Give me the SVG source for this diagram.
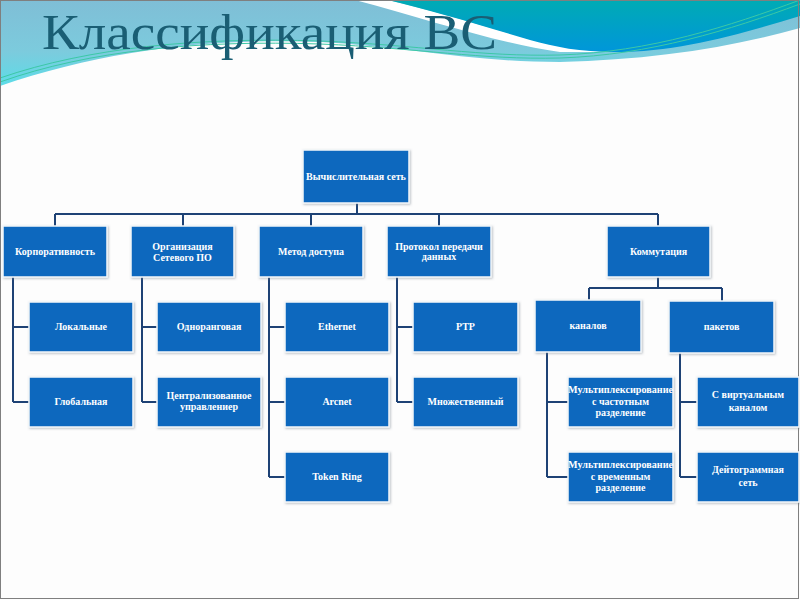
<svg xmlns="http://www.w3.org/2000/svg" width="800" height="600" viewBox="0 0 800 600">
<defs>
<linearGradient id="lb" x1="0" y1="0" x2="0" y2="1">
<stop offset="0" stop-color="#7FBED6"/>
<stop offset="0.6" stop-color="#7CCBDD"/>
<stop offset="1" stop-color="#5CDCE8"/>
</linearGradient>
<linearGradient id="teal" x1="0" y1="0" x2="0" y2="1">
<stop offset="0" stop-color="#00ABB4"/>
<stop offset="1" stop-color="#0096DA"/>
</linearGradient>
<filter id="sh" x="-10%" y="-10%" width="120%" height="130%">
<feDropShadow dx="1" dy="1" stdDeviation="0.8" flood-color="#7A8590" flood-opacity="0.5"/>
</filter>
<style>
.box{fill:#1168BE;stroke:#F4F7FA;stroke-width:1.5;filter:url(#sh)}
.t{font-family:"Liberation Serif","DejaVu Serif",serif;font-weight:bold;font-size:10px;fill:#FFFFFF;text-anchor:middle}
.c{fill:none;stroke:#1E4275;stroke-width:2}
.g{fill:none;stroke:#3CC8A6;stroke-width:1}
</style>
</defs>
<rect x="0" y="0" width="800" height="600" fill="#FDFDFD"/>
<path d="M0,0 H800 V28 C730,48 650,60 560,62 C470,62 400,46 320,42 C220,38 110,48 0,86 Z" fill="url(#lb)"/>
<path d="M355,0 L388,0 C440,12 490,28 540,42 C570,49 600,52 620,52 L560,52 C500,44 430,20 355,0 Z" fill="#FFFFFF"/>
<path d="M388,0 H800 V16 C740,34 680,52 615,52 C580,52 555,47 530,40 C480,25 430,10 388,0 Z" fill="url(#teal)"/>
<path class="g" d="M0,82 C90,50 200,40 320,44 C420,48 480,60 560,58 C650,55 730,30 800,4"/>
<path class="g" d="M0,78 C90,47 200,37 320,41 C420,45 480,57 560,55 C650,52 730,26 800,0"/>
<rect x="0.5" y="0.5" width="798" height="598" fill="none" stroke="#7F7F7F" stroke-width="1"/>
<text x="42" y="49" font-family="'Liberation Serif','DejaVu Serif',serif" font-size="50" fill="#1A5E74" textLength="455" lengthAdjust="spacingAndGlyphs">Классификация ВС</text>

<g id="connectors">
<path class="c" d="M357,203 V214 M55,214 H658 M55,214 V226 M183,214 V226 M311,214 V226 M439,214 V226 M658,214 V226"/>
<path class="c" d="M13,277 V402 M13,327 H29 M13,402 H29"/>
<path class="c" d="M142,277 V402 M142,327 H157 M142,402 H157"/>
<path class="c" d="M269,277 V477 M269,327 H285 M269,402 H285 M269,477 H285"/>
<path class="c" d="M397,277 V402 M397,327 H413 M397,402 H413"/>
<path class="c" d="M658,277 V288 M589,288 H722 M589,288 V300 M722,288 V301"/>
<path class="c" d="M547,352 V477 M547,402 H568 M547,477 H568"/>
<path class="c" d="M680,353 V477 M680,402 H697 M680,477 H697"/>
</g>

<g id="n-root"><rect class="box" x="303" y="150" width="106" height="53"/><text class="t" x="356" y="180">Вычислительная сеть</text></g>

<g id="n-korp"><rect class="box" x="3" y="226" width="104" height="51"/><text class="t" x="55" y="255">Корпоративность</text></g>
<g id="n-org"><rect class="box" x="131" y="226" width="103" height="51"/><text class="t" x="182.5" y="250">Организация</text><text class="t" x="182.5" y="261">Сетевого ПО</text></g>
<g id="n-metod"><rect class="box" x="259" y="226" width="104" height="51"/><text class="t" x="311" y="255">Метод доступа</text></g>
<g id="n-prot"><rect class="box" x="387" y="226" width="104" height="51"/><text class="t" x="439" y="250">Протокол передачи</text><text class="t" x="439" y="260">данных</text></g>
<g id="n-komm"><rect class="box" x="607" y="226" width="103" height="51"/><text class="t" x="658.5" y="255">Коммутация</text></g>

<g id="n-lok"><rect class="box" x="29" y="302" width="104" height="50"/><text class="t" x="81" y="330">Локальные</text></g>
<g id="n-glob"><rect class="box" x="29" y="377" width="104" height="50"/><text class="t" x="81" y="405">Глобальная</text></g>
<g id="n-odn"><rect class="box" x="157" y="302" width="104" height="50"/><text class="t" x="209" y="330">Одноранговая</text></g>
<g id="n-centr"><rect class="box" x="157" y="377" width="104" height="50"/><text class="t" x="209" y="399">Централизованное</text><text class="t" x="209" y="410">управлениер</text></g>
<g id="n-eth"><rect class="box" x="285" y="302" width="104" height="50"/><text class="t" x="337" y="330">Ethernet</text></g>
<g id="n-arc"><rect class="box" x="285" y="377" width="104" height="50"/><text class="t" x="337" y="405">Arcnet</text></g>
<g id="n-tok"><rect class="box" x="285" y="452" width="104" height="50"/><text class="t" x="337" y="480">Token Ring</text></g>
<g id="n-ptp"><rect class="box" x="413" y="302" width="105" height="50"/><text class="t" x="465.5" y="330">PTP</text></g>
<g id="n-mnozh"><rect class="box" x="413" y="377" width="105" height="50"/><text class="t" x="465.5" y="405">Множественный</text></g>

<g id="n-kan"><rect class="box" x="535" y="300" width="106" height="52"/><text class="t" x="588" y="329">каналов</text></g>
<g id="n-pak"><rect class="box" x="669" y="301" width="105" height="52"/><text class="t" x="721.5" y="330">пакетов</text></g>
<g id="n-mfreq"><rect class="box" x="568" y="377" width="105" height="50"/><text class="t" x="620.5" y="393" textLength="105" lengthAdjust="spacingAndGlyphs">Мультиплексирование</text><text class="t" x="620.5" y="405">с частотным</text><text class="t" x="620.5" y="416">разделение</text></g>
<g id="n-mtime"><rect class="box" x="568" y="452" width="105" height="50"/><text class="t" x="620.5" y="468" textLength="105" lengthAdjust="spacingAndGlyphs">Мультиплексирование</text><text class="t" x="620.5" y="480">с временным</text><text class="t" x="620.5" y="491">разделение</text></g>
<g id="n-virt"><rect class="box" x="697" y="377" width="102" height="50"/><text class="t" x="748" y="398">С виртуальным</text><text class="t" x="748" y="411">каналом</text></g>
<g id="n-deit"><rect class="box" x="697" y="452" width="102" height="50"/><text class="t" x="748" y="473">Дейтограммная</text><text class="t" x="748" y="486">сеть</text></g>
</svg>
